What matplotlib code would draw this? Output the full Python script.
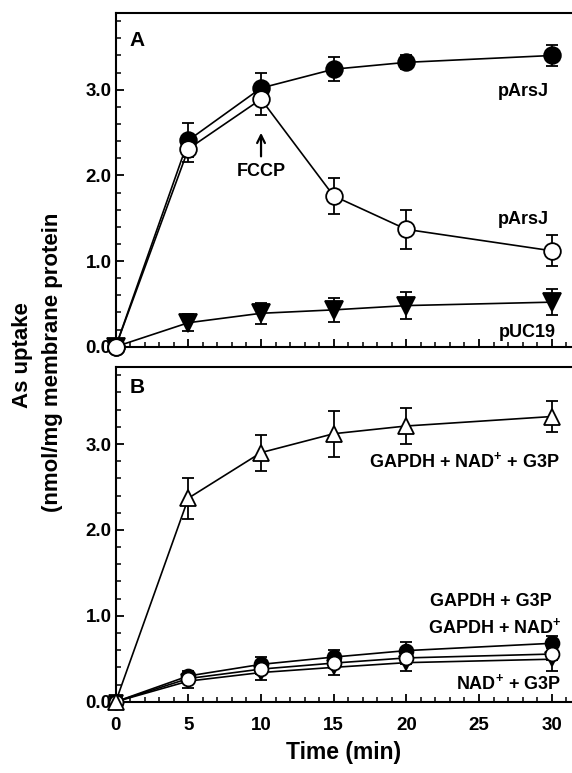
import matplotlib
matplotlib.use("Agg")
import matplotlib.pyplot as plt
from matplotlib.ticker import MultipleLocator, FixedLocator

plt.rcParams['font.family'] = ['Liberation Sans', 'DejaVu Sans']
plt.rcParams['font.weight'] = 'bold'
plt.rcParams['mathtext.fontset'] = 'custom'
plt.rcParams['mathtext.rm'] = 'Liberation Sans:bold'
plt.rcParams['mathtext.bf'] = 'Liberation Sans:bold'
plt.rcParams['mathtext.it'] = 'Liberation Sans:bold'

# ---- data ----
time = [0, 5, 10, 15, 20, 30]

# Panel A
a_parsj = [0.0, 2.41, 3.02, 3.24, 3.32, 3.40]
a_parsj_err = [0.0, 0.20, 0.17, 0.14, 0.08, 0.12]
a_fccp = [0.0, 2.31, 2.89, 1.76, 1.37, 1.12]
a_fccp_err = [0.0, 0.15, 0.19, 0.21, 0.23, 0.18]
a_puc19 = [0.0, 0.28, 0.39, 0.43, 0.48, 0.52]
a_puc19_err = [0.0, 0.10, 0.12, 0.14, 0.16, 0.15]

# Panel B
b_full = [0.0, 2.37, 2.90, 3.12, 3.21, 3.32]
b_full_err = [0.0, 0.24, 0.21, 0.27, 0.21, 0.18]
b_gapdh_g3p = [0.0, 0.30, 0.435, 0.52, 0.595, 0.68]
b_gapdh_g3p_err = [0.0, 0.06, 0.08, 0.08, 0.10, 0.09]
b_gapdh_nad = [0.0, 0.27, 0.38, 0.45, 0.51, 0.555]
b_gapdh_nad_err = [0.0, 0.05, 0.06, 0.06, 0.07, 0.07]
b_nad_g3p = [0.0, 0.24, 0.34, 0.40, 0.455, 0.495]
b_nad_g3p_err = [0.0, 0.08, 0.09, 0.09, 0.10, 0.14]

yticks = [0.0, 1.0, 2.0, 3.0]
ytick_labels = ['0.0', '1.0', '2.0', '3.0']
xticks = [0, 5, 10, 15, 20, 25, 30]
xtick_labels = ['0', '5', '10', '15', '20', '25', '30']

fig = plt.figure(figsize=(5.72, 7.73), dpi=100)
axA = fig.add_axes([0.2023, 0.5515, 0.7977, 0.4321])
axB = fig.add_axes([0.2023, 0.0922, 0.7977, 0.4334])


def style(ax, show_xlabels):
    ax.set_xlim(0, 31.4)
    ax.set_ylim(0, 3.9)
    for s in ['left', 'bottom', 'top']:
        ax.spines[s].set_linewidth(1.5)
    ax.spines['right'].set_visible(False)
    ax.yaxis.set_major_locator(FixedLocator(yticks))
    ax.set_yticklabels(ytick_labels)
    ax.yaxis.set_minor_locator(MultipleLocator(0.2))
    ax.xaxis.set_major_locator(FixedLocator(xticks))
    ax.xaxis.set_minor_locator(MultipleLocator(1))
    ax.tick_params(axis='both', which='major', direction='in', length=6, width=1.3,
                   labelsize=13.5)
    ax.tick_params(axis='y', which='major', pad=3)
    ax.tick_params(axis='x', which='major', pad=11)
    ax.tick_params(axis='both', which='minor', direction='in', length=3.5, width=1.1)
    ax.tick_params(top=False, right=False, which='both')
    if show_xlabels:
        ax.set_xticklabels(xtick_labels)
    else:
        ax.set_xticklabels([])
    for lab in ax.get_xticklabels() + ax.get_yticklabels():
        lab.set_fontweight('bold')


def series(ax, y, err, marker, face, ms):
    ax.errorbar(time, y, yerr=err, color='black', lw=1.2, marker=marker, ms=ms,
                mfc=face, mec='black', mew=1.3, capsize=4.5, capthick=1.3,
                elinewidth=1.3, clip_on=False, zorder=3)

style(axA, False)
series(axA, a_puc19, a_puc19_err, 'v', 'black', 12.5)
series(axA, a_parsj, a_parsj_err, 'o', 'black', 12)
series(axA, a_fccp, a_fccp_err, 'o', 'white', 12)

axA.text(1.5, 3.57, 'A', fontsize=15, fontweight='bold', ha='center', va='center')
axA.text(28.05, 2.98, 'pArsJ', fontsize=13, fontweight='bold', ha='center', va='center')
axA.text(28.05, 1.48, 'pArsJ', fontsize=13, fontweight='bold', ha='center', va='center')
axA.text(28.3, 0.17, 'pUC19', fontsize=13, fontweight='bold', ha='center', va='center')
axA.text(10.0, 2.05, 'FCCP', fontsize=13, fontweight='bold', ha='center', va='center')
axA.annotate('', xy=(10.0, 2.53), xytext=(10.0, 2.19),
             arrowprops=dict(arrowstyle='->', lw=1.6, color='black',
                             mutation_scale=14))

style(axB, True)
series(axB, b_nad_g3p, b_nad_g3p_err, 'v', 'black', 10.5)
series(axB, b_gapdh_g3p, b_gapdh_g3p_err, 'o', 'black', 10)
series(axB, b_gapdh_nad, b_gapdh_nad_err, 'o', 'white', 10)
series(axB, b_full, b_full_err, '^', 'white', 11.5)

axB.text(1.5, 3.66, 'B', fontsize=15, fontweight='bold', ha='center', va='center')
axB.text(24.0, 2.80, r'GAPDH + NAD$^{+}$ + G3P', fontsize=13, fontweight='bold',
         ha='center', va='center')
axB.text(25.8, 1.165, 'GAPDH + G3P', fontsize=13, fontweight='bold',
         ha='center', va='center')
axB.text(26.1, 0.875, r'GAPDH + NAD$^{+}$', fontsize=13, fontweight='bold',
         ha='center', va='center')
axB.text(27.0, 0.215, r'NAD$^{+}$ + G3P', fontsize=13, fontweight='bold',
         ha='center', va='center')

axB.set_xlabel('Time (min)', fontsize=16.5, fontweight='bold', labelpad=5)

fig.text(0.040, 0.541, 'As uptake', rotation=90, fontsize=16, fontweight='bold',
         ha='center', va='center')
fig.text(0.092, 0.531, '(nmol/mg membrane protein', rotation=90, fontsize=16,
         fontweight='bold', ha='center', va='center')

fig.savefig('out.png', dpi=100)
